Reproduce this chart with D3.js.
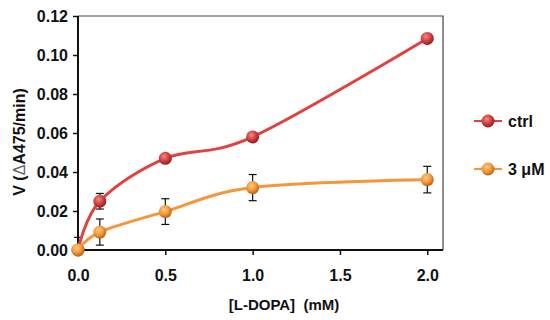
<!DOCTYPE html>
<html lang="en">
<head>
  <meta charset="UTF-8">
  <title>L-DOPA kinetics</title>
  <script src="https://cdn.jsdelivr.net/npm/d3@7"></script>
  <style>
    body { margin: 0; background: #fff; }
    text { font-family: "Liberation Sans", Arial, sans-serif; font-weight: bold; fill: #111; }
  </style>
</head>
<body>
  <script>
    const dopa = [0, 0.125, 0.5, 1.0, 2.0];
    const ctrlV = [0, 0.025, 0.047, 0.058, 0.1085];
    const ctrlErr = [0.0065, 0.004, 0.0015, 0.0015, 0.002];
    const inhV = [0, 0.0092, 0.0197, 0.032, 0.0361];
    const inhErr = [0, 0.0067, 0.0066, 0.0067, 0.0068];
    const xTicks = [0, 0.5, 1.0, 1.5, 2.0];
    const yTicks = [0, 0.02, 0.04, 0.06, 0.08, 0.10, 0.12];
    const seriesNames = ["ctrl", "3 μM"];

    const W = 550, H = 320;
    const margin = { top: 16, right: 107, bottom: 70, left: 78 };
    const width = W - margin.left - margin.right;
    const height = H - margin.top - margin.bottom;

    const svg = d3.select("body").append("svg")
      .attr("width", W)
      .attr("height", H);

    // sphere-like marker gradients
    const defs = svg.append("defs");
    function sphere(id, light, mid, dark) {
      const g = defs.append("radialGradient").attr("id", id)
        .attr("cx", "40%").attr("cy", "35%").attr("r", "65%");
      g.append("stop").attr("offset", "0%").attr("stop-color", light);
      g.append("stop").attr("offset", "55%").attr("stop-color", mid);
      g.append("stop").attr("offset", "100%").attr("stop-color", dark);
    }
    sphere("gRed", "#f08a86", "#d2403f", "#8e1f22");
    sphere("gOrange", "#fcc98a", "#f59a3a", "#b8631a");

    const x = d3.scaleLinear().domain([0, 2.09]).range([0, width]);
    const y = d3.scaleLinear().domain([0, 0.12]).range([height, 0]);

    const g = svg.append("g").attr("transform", `translate(${margin.left},${margin.top})`);

    // frame (top and right)
    g.append("path")
      .attr("d", `M0,0H${width}V${height}`)
      .attr("fill", "none").attr("stroke", "#444").attr("stroke-width", 1.2);

    const yAxis = g.append("g")
      .call(d3.axisLeft(y).tickValues(yTicks).tickSize(5).tickPadding(5).tickFormat(d3.format(".2f")));
    const xAxis = g.append("g")
      .attr("transform", `translate(0,${height})`)
      .call(d3.axisBottom(x).tickValues(xTicks).tickSize(5).tickPadding(15).tickFormat(d3.format(".1f")));
    [xAxis, yAxis].forEach(a => {
      a.select(".domain").attr("stroke", "#111").attr("stroke-width", 2);
      a.selectAll(".tick line").attr("stroke", "#111").attr("stroke-width", 1.5);
      a.selectAll(".tick text").style("font-size", "16px").attr("fill", "#111");
    });
    yAxis.select(".domain").attr("d", `M0,${height}V0`);
    xAxis.select(".domain").attr("d", `M0,0H${width}`);

    const series = [
      { name: seriesNames[0], v: ctrlV, e: ctrlErr, line: "#e0423f", grad: "url(#gRed)" },
      { name: seriesNames[1], v: inhV, e: inhErr, line: "#f7953a", grad: "url(#gOrange)" }
    ];

    const line = d3.line()
      .x(d => x(d[0]))
      .y(d => y(d[1]))
      .curve(d3.curveCardinal.tension(0));

    // error bars
    series.forEach(s => {
      const eb = g.append("g").attr("stroke", "#111").attr("stroke-width", 1.2);
      dopa.forEach((c, i) => {
        if (!s.e[i]) return;
        const cx = x(c), y1 = y(s.v[i] + s.e[i]), y0 = y(Math.max(0, s.v[i] - s.e[i]));
        eb.append("line").attr("x1", cx).attr("x2", cx).attr("y1", y1).attr("y2", y0);
        eb.append("line").attr("x1", cx - 4).attr("x2", cx + 4).attr("y1", y1).attr("y2", y1);
        eb.append("line").attr("x1", cx - 4).attr("x2", cx + 4).attr("y1", y0).attr("y2", y0);
      });
    });

    series.forEach(s => {
      g.append("path")
        .datum(dopa.map((c, i) => [c, s.v[i]]))
        .attr("d", line)
        .attr("fill", "none")
        .attr("stroke", s.line)
        .attr("stroke-width", 3);
      g.selectAll(null)
        .data(dopa.map((c, i) => [c, s.v[i]]))
        .enter().append("circle")
        .attr("cx", d => x(d[0]))
        .attr("cy", d => y(d[1]))
        .attr("r", 6.5)
        .attr("fill", s.grad);
    });

    // legend
    const legend = svg.append("g").attr("transform", "translate(474,121)");
    series.forEach((s, i) => {
      const row = legend.append("g").attr("transform", `translate(0,${i * 48})`);
      row.append("line").attr("x1", 0).attr("x2", 28).attr("stroke", s.line).attr("stroke-width", 2);
      row.append("circle").attr("cx", 14).attr("r", 6.5).attr("fill", s.grad);
      row.append("text").attr("x", 34).attr("dy", "0.36em").style("font-size", "16px").text(s.name);
    });

    // axis titles
    const yTitle = svg.append("text")
      .attr("transform", "translate(19,142) rotate(-90)")
      .attr("text-anchor", "middle")
      .attr("dy", "0.36em")
      .style("font-size", "16px")
      .attr("xml:space", "preserve");
    yTitle.append("tspan").text("V (");
    yTitle.append("tspan").style("font-weight", "normal").attr("fill", "#666").text("Δ");
    yTitle.append("tspan").text("A475/min)");
    svg.append("text")
      .attr("x", 284).attr("y", 305)
      .attr("text-anchor", "middle")
      .attr("dy", "0.36em")
      .style("font-size", "15px")
      .attr("xml:space", "preserve")
      .text("[L-DOPA]  (mM)");
  </script>
</body>
</html>
